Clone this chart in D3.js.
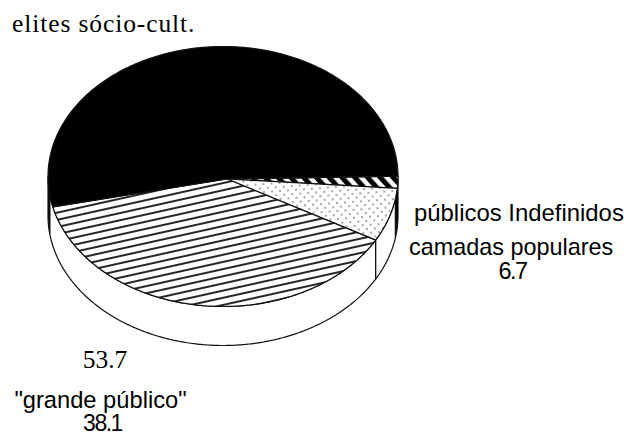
<!DOCTYPE html>
<html><head><meta charset="utf-8">
<script src="https://cdn.jsdelivr.net/npm/d3@7"></script>
<style>html,body{margin:0;padding:0;background:#fff}svg{display:block}</style>
</head><body><div id="c"></div>
<script>
const categories = ["públicos Indefinidos", "camadas populares", "\"grande público\"", "elites sócio-cult."];
const values = [1.5, 6.7, 38.1, 53.7];
const valueLabels = ["", "6.7", "38.1", "53.7"];

const W = 628, H = 434;
const cx = 223, cy = 176.5, rx = 175, ry = 130, depth = 39;
const hubX = 227, hubY = 179;
const startDeg = 89.8;
const fills = ["url(#stripes)", "url(#dots)", "url(#hatch)", "#000"];
const ink = "#111";
const rad = d => d*Math.PI/180;

const svg = d3.select("#c").append("svg").attr("width", W).attr("height", H).attr("viewBox", [0,0,W,H]);
svg.append("rect").attr("width", W).attr("height", H).attr("fill", "#fff");
const defs = svg.append("defs");

const hatch = defs.append("pattern").attr("id","hatch").attr("patternUnits","userSpaceOnUse")
  .attr("width",20).attr("height",7).attr("patternTransform","rotate(-12.5)");
hatch.append("rect").attr("width",20).attr("height",7).attr("fill","#fff");
hatch.append("line").attr("x1",0).attr("x2",20).attr("y1",3).attr("y2",3).attr("stroke","#000").attr("stroke-width",1.7);

const dots = defs.append("pattern").attr("id","dots").attr("patternUnits","userSpaceOnUse")
  .attr("width",8).attr("height",8).attr("patternTransform","rotate(-4)");
dots.append("rect").attr("width",8).attr("height",8).attr("fill","#fff");
[[2,2],[6,6]].forEach(d => dots.append("circle").attr("cx",d[0]).attr("cy",d[1]).attr("r",0.75).attr("fill","#222"));

const stripes = defs.append("pattern").attr("id","stripes").attr("patternUnits","userSpaceOnUse")
  .attr("width",9.5).attr("height",20).attr("patternTransform","rotate(-42)");
stripes.append("rect").attr("width",9.5).attr("height",20).attr("fill","#fff");
stripes.append("rect").attr("width",5).attr("height",20).attr("fill","#000");

const xs = d3.scaleLinear().domain([-1,1]).range([cx-rx,cx+rx]);
const ys = d3.scaleLinear().domain([-1,1]).range([cy-ry,cy+ry]);
const ysLow = d3.scaleLinear().domain([-1,1]).range([cy-ry+depth,cy+ry+depth]);

const pie = d3.pie().sort(null).value(d=>d)
  .startAngle(rad(startDeg)).endAngle(rad(startDeg+360));
const arcs = pie(values);
const steps = (a0,a1) => { const n = Math.max(2,Math.ceil(Math.abs(a1-a0)/0.01)); return d3.range(n+1).map(i=>a0+(a1-a0)*i/n); };
const line = d3.line();
const topPt = a => [xs(Math.sin(a)), ys(-Math.cos(a))];
const lowPt = a => [xs(Math.sin(a)), ysLow(-Math.cos(a))];

// visible side wall: dark slivers at both extremes, white between
const rightEdge = rad(100), leftEdge = rad(262);
const wallSpans = [
  {a0:rad(90), a1:rightEdge, fill:"#000"},
  {a0:rightEdge, a1:arcs[1].endAngle, fill:"#fff"},
  {a0:arcs[2].startAngle, a1:leftEdge, fill:"#fff"},
  {a0:leftEdge, a1:rad(270), fill:"#000"}
];
svg.append("g").selectAll("path").data(wallSpans).join("path")
  .attr("d",d=>{
    const s=steps(d.a0,d.a1);
    return line(s.map(topPt).concat(s.slice().reverse().map(lowPt)))+"Z";
  })
  .attr("fill",d=>d.fill).attr("stroke",ink).attr("stroke-width",1.2).attr("stroke-linejoin","round");

// top face
svg.append("g").selectAll("path").data(arcs).join("path")
  .attr("d",d=>line([[hubX,hubY]].concat(steps(d.startAngle,d.endAngle).map(topPt)))+"Z")
  .attr("fill",(d,i)=>fills[i]).attr("stroke",ink).attr("stroke-width",1.2).attr("stroke-linejoin","round");

// labels
const serif = "'Liberation Serif', serif", sans = "'Liberation Sans', Arial, sans-serif";
const labelRows = [
  {t:categories[3], x:12, y:32, a:"start", f:serif, s:25.5, ls:0.9},
  {t:valueLabels[3], x:105, y:368, a:"middle", f:serif, s:25.5, ls:0},
  {t:categories[2], x:100.5, y:408, a:"middle", f:sans, s:23.7, ls:0},
  {t:valueLabels[2], x:102.5, y:431, a:"middle", f:sans, s:23, ls:-1.5},
  {t:categories[0], x:414, y:221, a:"start", f:sans, s:23.9, ls:0},
  {t:categories[1], x:409, y:255, a:"start", f:sans, s:23.4, ls:0},
  {t:valueLabels[1], x:512.5, y:279, a:"middle", f:sans, s:23.5, ls:-1.5}
];
svg.append("g").selectAll("text").data(labelRows).join("text")
  .attr("x",d=>d.x).attr("y",d=>d.y).attr("text-anchor",d=>d.a)
  .attr("font-family",d=>d.f).attr("font-size",d=>d.s).attr("letter-spacing",d=>d.ls)
  .attr("fill","#000").text(d=>d.t);
</script></body></html>
